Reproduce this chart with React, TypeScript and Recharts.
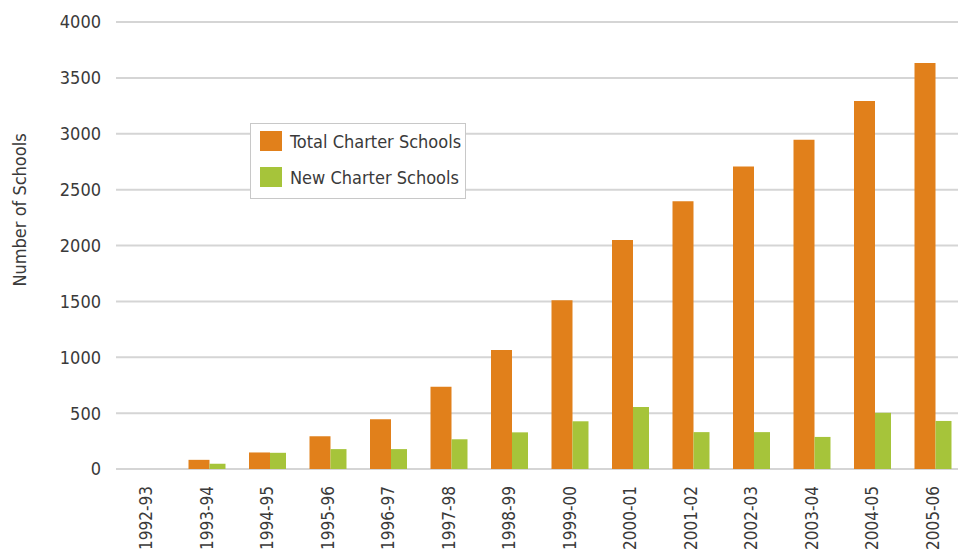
import React from 'react'
import { BarChart, Bar, XAxis, YAxis, CartesianGrid, Legend } from 'recharts'

const years = [
  '1992-93', '1993-94', '1994-95', '1995-96', '1996-97', '1997-98', '1998-99',
  '1999-00', '2000-01', '2001-02', '2002-03', '2003-04', '2004-05', '2005-06',
]
const totalSchools = [0, 82, 148, 293, 445, 736, 1065, 1510, 2050, 2395, 2706, 2947, 3293, 3633]
const newSchools = [0, 47, 145, 178, 178, 266, 328, 427, 555, 330, 330, 287, 503, 430]
const yTicks = [0, 500, 1000, 1500, 2000, 2500, 3000, 3500, 4000]

const data = years.map((year, i) => ({ year, total: totalSchools[i], added: newSchools[i] }))

const FONT = "'DejaVu Sans Condensed', 'Liberation Sans', Arial, sans-serif"
const TEXT = '#3a3a3a'
const ORANGE = '#E1801B'
const GREEN = '#A6C43A'

const XTick = ({ x, y, payload }: any) => (
  <text
    transform={`translate(${x},${y + 17}) rotate(-90)`}
    textAnchor="end"
    dy="0.36em"
    fill={TEXT}
    fontSize={17}
    fontFamily={FONT}
  >
    {payload.value}
  </text>
)

const LegendBox = () => {
  const items = [
    { label: 'Total Charter Schools', color: ORANGE },
    { label: 'New Charter Schools', color: GREEN },
  ]
  return (
    <div
      style={{
        width: 214,
        height: 74,
        border: '1.5px solid #c8c8c8',
        background: '#fff',
        position: 'relative',
        fontFamily: FONT,
        fontSize: 18,
        color: TEXT,
      }}
    >
      {items.map((it, i) => (
        <div key={it.label} style={{ position: 'absolute', left: 9, top: 7 + i * 36, display: 'flex', alignItems: 'center', height: 20 }}>
          <span style={{ width: 22, height: 20, background: it.color, display: 'inline-block' }} />
          <span style={{ marginLeft: 8, whiteSpace: 'nowrap' }}>{it.label}</span>
        </div>
      ))}
    </div>
  )
}

export default function App() {
  return (
    <div style={{ position: 'absolute', left: 0, top: 0, width: 958, height: 553, overflow: 'hidden', background: '#fff' }}>
      <BarChart
        width={963}
        height={553}
        data={data}
        margin={{ top: 22, right: 0, left: 0, bottom: 0 }}
        barGap={0}
      >
        <CartesianGrid vertical={false} stroke="#d5d5d5" strokeWidth={2} />
        <XAxis
          dataKey="year"
          height={84}
          axisLine={false}
          tickLine={false}
          tickSize={0}
          tickMargin={0}
          interval={0}
          tick={<XTick />}
        />
        <YAxis
          width={116}
          domain={[0, 4000]}
          ticks={yTicks}
          axisLine={false}
          tickLine={false}
          tickSize={0}
          tickMargin={15}
          tick={{ fill: TEXT, fontSize: 18, fontFamily: FONT }}
          label={{
            content: () => (
              <text
                transform="translate(20,210) rotate(-90)"
                textAnchor="middle"
                dy="0.36em"
                fill={TEXT}
                fontSize={18}
                fontFamily={FONT}
              >
                Number of Schools
              </text>
            ),
          }}
        />
        <Legend
          layout="vertical"
          align="center"
          verticalAlign="middle"
          content={<LegendBox />}
          wrapperStyle={{ position: 'absolute', left: 250, top: 123, width: 'auto' }}
        />
        <Bar dataKey="total" name="Total Charter Schools" fill={ORANGE} barSize={21} isAnimationActive={false} />
        <Bar dataKey="added" name="New Charter Schools" fill={GREEN} barSize={16} isAnimationActive={false} />
      </BarChart>
    </div>
  )
}
